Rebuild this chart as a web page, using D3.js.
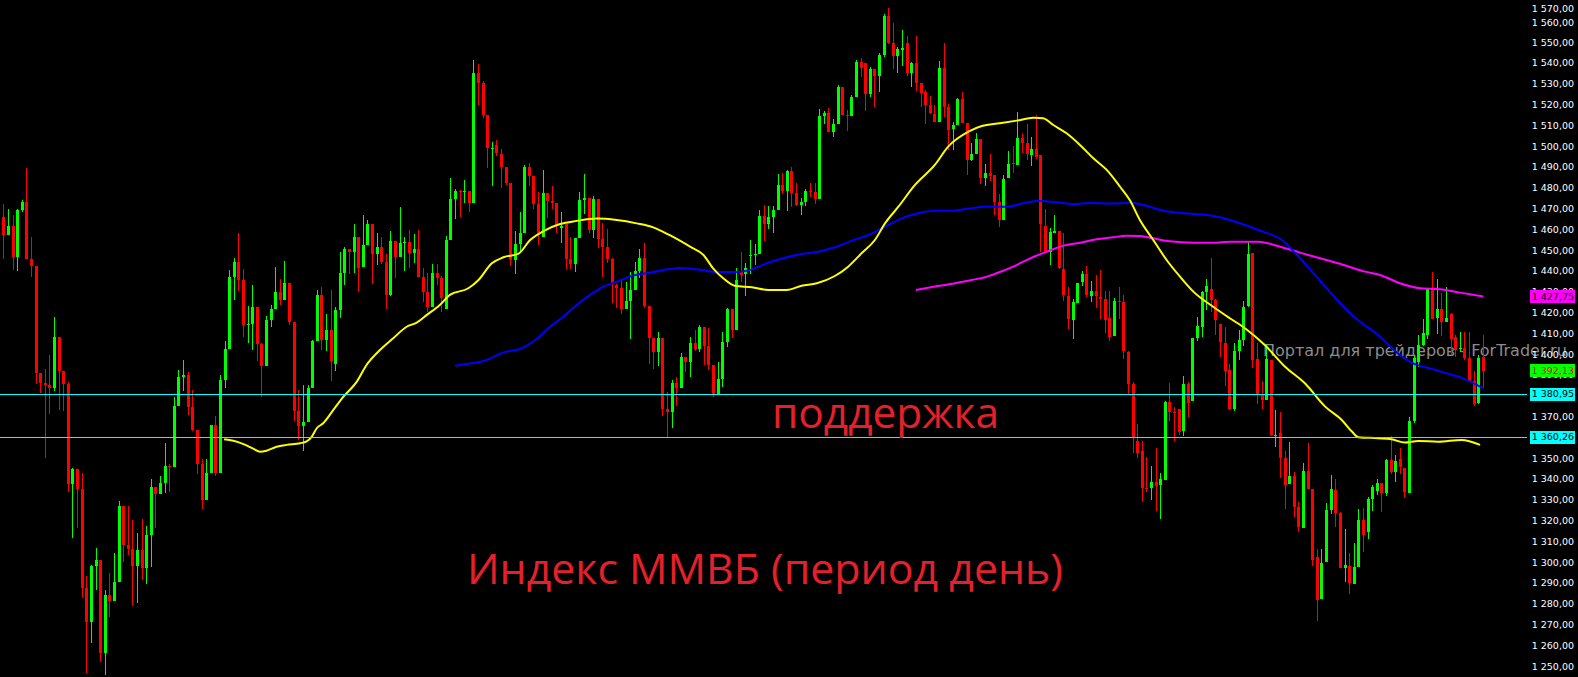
<!DOCTYPE html>
<html><head><meta charset="utf-8">
<script src="https://cdn.jsdelivr.net/npm/d3@7"></script>
<style>html,body{margin:0;padding:0;background:#000;overflow:hidden}</style>
</head><body>
<svg id="c" width="1578" height="677"></svg>
<script>
// ---- Daily candles (MICEX index) ----
const openP = [
1466.4,1457.5,1461.9,1447.1,1469.6,1473.4,1446.0,1442.6,1391.4,1386.5,
1385.4,1384.1,1408.5,1392.2,1385.9,1338.0,1345.0,1335.4,1288.0,1271.6,
1298.6,1301.3,1256.7,1284.5,1281.7,1290.9,1327.3,1308.5,1306.6,1298.6,
1306.1,1297.6,1313.3,1336.4,1333.2,1338.3,1346.6,1346.2,1375.3,1389.4,
1390.2,1375.0,1363.8,1347.6,1330.3,1343.1,1366.2,1343.1,1387.8,1402.7,
1437.3,1444.6,1435.9,1414.4,1414.8,1422.9,1405.2,1394.7,1416.7,1422.0,
1430.2,1426.3,1434.5,1415.7,1372.9,1365.7,1367.7,1384.0,1406.6,1428.7,
1407.1,1411.9,1395.5,1421.5,1439.3,1450.8,1449.4,1456.6,1442.2,1452.7,
1462.8,1448.4,1451.8,1444.6,1428.7,1454.7,1447.0,1453.7,1454.2,1448.9,
1450.8,1437.4,1430.2,1422.9,1439.3,1436.9,1422.0,1455.2,1474.9,1478.7,
1478.2,1478.7,1472.9,1535.4,1530.6,1515.2,1498.9,1501.0,1496.5,1490.1,
1482.5,1445.7,1453.2,1458.5,1490.2,1485.9,1472.4,1456.7,1477.7,1473.9,
1472.9,1461.1,1462.8,1446.0,1443.6,1456.1,1474.4,1475.3,1459.9,1474.8,
1455.6,1451.8,1446.0,1433.5,1432.1,1421.9,1425.8,1431.1,1440.2,1446.5,
1423.4,1408.0,1401.3,1408.0,1373.9,1372.4,1386.4,1384.0,1398.9,1396.5,
1405.6,1402.7,1413.3,1404.2,1395.0,1381.1,1388.3,1406.1,1421.9,1411.9,
1439.9,1438.9,1447.4,1447.9,1448.4,1466.7,1463.0,1466.2,1469.5,1481.6,
1478.7,1488.3,1477.7,1472.0,1473.4,1478.7,1478.2,1474.8,1514.7,1516.2,
1507.0,1510.9,1528.7,1515.2,1514.7,1523.9,1540.7,1540.2,1525.3,1537.3,
1534.0,1544.1,1562.8,1549.8,1543.6,1546.5,1549.8,1535.4,1540.2,1530.6,
1526.3,1520.0,1515.7,1511.8,1537.8,1519.1,1508.5,1510.4,1522.9,1511.4,
1493.6,1496.5,1503.7,1484.9,1487.3,1486.3,1473.4,1464.7,1484.9,1492.1,
1491.1,1504.1,1501.7,1495.9,1498.8,1495.9,1461.8,1449.3,1458.5,1459.4,
1441.1,1428.2,1416.6,1424.8,1434.9,1438.7,1428.2,1430.6,1427.7,1426.7,
1417.6,1408.9,1425.8,1425.3,1401.2,1385.9,1358.5,1353.6,1335.9,1335.9,
1338.7,1337.3,1339.7,1377.2,1372.4,1373.8,1363.3,1385.9,1377.7,1408.0,
1413.3,1430.1,1431.5,1426.2,1414.7,1405.6,1392.6,1373.8,1401.7,1407.0,
1423.4,1448.8,1397.9,1381.1,1378.2,1397.4,1360.9,1362.3,1350.3,1337.8,
1341.6,1326.7,1316.6,1344.0,1335.4,1302.7,1282.5,1300.3,1325.3,1334.9,
1323.8,1297.4,1298.4,1289.7,1297.9,1320.5,1314.7,1330.6,1334.4,1338.3,
1333.5,1349.3,1343.6,1349.8,1345.5,1333.5,1368.1,1396.6,1404.6,1409.4,
1431.4,1417.5,1421.8,1415.7,1419.4,1408.6,1402.5,1403.2,1398.2,1387.3,
1376.6,1398.7];
const highP = [
1472.4,1470.0,1467.2,1470.0,1474.4,1489.8,1456.6,1442.6,1391.4,1393.1,
1399.8,1418.1,1408.5,1392.2,1386.9,1345.5,1345.0,1343.3,1293.8,1299.0,
1307.2,1301.3,1287.0,1295.2,1304.8,1329.7,1327.3,1327.3,1320.5,1314.3,
1321.0,1317.6,1340.2,1336.4,1341.7,1357.5,1347.4,1379.7,1392.6,1397.4,
1391.7,1383.0,1363.8,1349.8,1349.8,1366.2,1370.5,1390.2,1406.6,1440.7,
1446.5,1458.5,1441.2,1423.4,1433.5,1422.9,1405.6,1418.6,1423.9,1442.2,
1436.4,1445.1,1434.5,1415.7,1383.0,1385.4,1385.4,1407.1,1431.1,1432.6,
1419.6,1431.1,1422.9,1449.4,1451.8,1450.8,1462.8,1456.6,1467.2,1464.8,
1462.8,1458.5,1456.6,1448.4,1459.5,1454.7,1471.0,1456.6,1460.0,1458.0,
1460.0,1441.7,1439.3,1443.6,1443.6,1437.8,1457.1,1485.0,1479.7,1479.2,
1484.0,1478.7,1541.7,1539.8,1531.6,1515.2,1502.3,1503.2,1499.0,1490.1,
1482.5,1459.5,1468.6,1491.2,1492.2,1485.9,1478.2,1488.8,1477.7,1481.1,
1472.9,1468.6,1462.8,1456.6,1456.1,1478.2,1486.9,1475.3,1476.3,1474.8,
1463.3,1460.4,1446.5,1434.0,1435.9,1435.0,1439.7,1444.6,1450.8,1453.7,
1423.4,1408.0,1410.9,1408.0,1382.1,1387.8,1389.3,1400.8,1398.9,1408.5,
1411.9,1414.3,1413.3,1412.8,1395.0,1396.5,1410.9,1422.4,1421.9,1441.7,
1449.2,1444.2,1455.1,1453.2,1469.5,1471.9,1471.5,1471.5,1486.8,1487.3,
1488.8,1490.2,1482.5,1475.3,1479.6,1482.5,1482.5,1518.1,1517.1,1518.6,
1513.3,1529.6,1528.7,1517.6,1524.8,1541.7,1542.6,1540.2,1538.3,1537.3,
1545.0,1563.8,1566.7,1559.4,1547.9,1556.1,1553.2,1540.7,1553.2,1530.6,
1527.2,1524.3,1520.0,1541.2,1549.8,1520.5,1511.8,1523.4,1526.3,1511.4,
1501.8,1506.6,1503.7,1491.6,1496.4,1486.3,1477.2,1486.3,1497.9,1500.3,
1516.6,1506.5,1510.9,1504.6,1515.2,1495.9,1470.0,1460.9,1467.1,1459.4,
1458.5,1432.5,1426.7,1434.4,1440.2,1442.6,1435.4,1438.3,1440.7,1430.6,
1430.6,1427.2,1432.5,1428.6,1401.7,1386.8,1366.6,1358.5,1350.8,1346.4,
1355.1,1343.1,1377.7,1386.3,1374.8,1373.8,1389.7,1386.8,1408.0,1418.1,
1430.6,1436.3,1446.4,1426.7,1414.7,1413.3,1395.5,1405.6,1411.8,1425.8,
1454.1,1448.8,1405.6,1387.3,1405.1,1397.4,1373.4,1372.4,1353.6,1358.0,
1343.6,1329.1,1347.9,1357.5,1335.4,1306.5,1306.5,1328.6,1342.1,1340.2,
1324.3,1316.1,1304.6,1309.4,1325.8,1326.2,1331.5,1337.3,1340.2,1338.3,
1349.8,1360.9,1351.7,1355.1,1345.5,1370.0,1399.3,1409.4,1417.0,1431.4,
1439.7,1436.4,1429.5,1432.5,1420.0,1409.4,1410.7,1410.9,1410.9,1392.1,
1399.8,1409.3];
const lowP = [
1446.0,1457.5,1440.7,1440.2,1468.8,1446.0,1437.3,1385.9,1381.6,1350.5,
1371.5,1382.7,1373.4,1373.1,1334.1,1312.0,1316.8,1283.2,1247.1,1261.5,
1287.0,1252.4,1246.0,1274.0,1281.7,1290.9,1300.5,1303.7,1278.9,1280.8,
1291.4,1289.9,1298.1,1316.4,1333.2,1333.7,1334.1,1346.2,1375.3,1382.7,
1371.0,1363.3,1342.8,1326.0,1330.3,1343.1,1341.4,1343.1,1384.1,1402.7,
1426.5,1430.6,1408.7,1405.8,1402.3,1397.0,1379.4,1394.7,1413.3,1422.0,
1423.9,1426.3,1414.3,1368.1,1359.0,1353.8,1367.7,1384.0,1406.6,1402.3,
1401.8,1387.4,1392.2,1417.7,1433.5,1438.8,1439.3,1430.2,1442.2,1452.7,
1434.0,1443.1,1443.6,1422.0,1428.2,1436.9,1447.0,1440.2,1441.7,1444.1,
1437.4,1425.3,1420.5,1422.9,1433.5,1420.5,1422.0,1455.2,1465.2,1466.2,
1472.9,1468.6,1472.9,1520.1,1513.8,1489.8,1481.1,1495.6,1480.3,1481.4,
1442.8,1439.0,1448.9,1458.5,1481.1,1470.0,1452.7,1456.7,1465.7,1470.0,
1458.5,1453.7,1441.2,1441.2,1439.7,1456.1,1467.6,1458.5,1456.1,1451.3,
1437.3,1444.1,1424.8,1422.4,1419.6,1421.9,1407.5,1431.1,1436.9,1422.4,
1395.5,1393.1,1394.6,1370.5,1360.4,1364.7,1375.3,1384.0,1391.7,1389.3,
1401.8,1401.3,1395.0,1392.6,1379.6,1381.1,1384.5,1403.7,1408.0,1411.9,
1435.1,1428.4,1438.9,1443.1,1448.4,1454.8,1460.4,1458.5,1469.5,1477.2,
1469.1,1471.0,1471.5,1467.1,1471.5,1475.8,1472.4,1474.8,1510.9,1507.0,
1504.6,1510.9,1515.2,1507.5,1514.7,1523.9,1533.5,1517.1,1523.9,1519.1,
1526.3,1543.1,1549.3,1537.3,1535.4,1538.8,1534.0,1528.7,1526.7,1519.1,
1510.9,1515.7,1511.8,1511.8,1514.2,1498.4,1498.4,1510.4,1511.4,1486.4,
1493.1,1496.5,1482.0,1481.1,1483.5,1467.1,1461.3,1464.7,1484.9,1487.3,
1491.1,1496.9,1493.5,1490.7,1494.0,1449.3,1448.8,1443.1,1458.5,1441.1,
1425.8,1412.3,1407.5,1424.8,1433.0,1427.7,1425.3,1422.4,1417.1,1410.4,
1406.5,1408.9,1417.1,1397.9,1381.1,1352.7,1350.3,1329.1,1333.9,1330.1,
1324.8,1320.9,1339.7,1368.1,1358.5,1361.3,1360.9,1370.0,1377.7,1406.5,
1408.5,1421.4,1420.5,1409.4,1398.8,1384.9,1373.4,1372.9,1397.4,1404.1,
1422.9,1393.6,1376.2,1373.8,1378.2,1360.9,1355.6,1340.7,1325.8,1337.8,
1321.9,1314.7,1316.6,1335.4,1298.4,1271.9,1282.5,1300.3,1323.4,1317.1,
1297.4,1290.7,1284.9,1289.7,1297.9,1305.1,1311.3,1324.8,1332.5,1324.3,
1332.0,1342.6,1338.7,1342.6,1331.1,1333.5,1367.1,1394.2,1404.2,1407.4,
1417.0,1409.9,1409.0,1415.7,1400.0,1399.0,1401.1,1397.4,1387.0,1375.5,
1376.1,1383.8];
const closeP = [
1457.5,1461.9,1447.1,1469.6,1473.4,1446.0,1442.6,1391.4,1386.5,1385.4,
1384.1,1408.5,1392.2,1385.9,1338.0,1345.0,1335.4,1288.0,1271.6,1298.6,
1301.3,1256.7,1284.5,1281.7,1290.7,1327.3,1308.5,1306.6,1298.6,1306.1,
1297.6,1313.3,1336.4,1333.2,1338.3,1346.5,1346.2,1375.3,1389.3,1390.2,
1375.0,1363.8,1347.6,1330.3,1343.1,1366.2,1343.1,1387.8,1402.7,1437.3,
1444.6,1435.9,1414.4,1414.8,1422.9,1405.2,1394.7,1416.7,1422.0,1430.2,
1426.3,1434.5,1415.7,1372.9,1365.7,1367.7,1384.0,1406.6,1428.7,1407.1,
1411.9,1397.0,1421.5,1439.3,1450.8,1449.4,1456.6,1441.7,1452.7,1462.8,
1448.4,1451.8,1444.6,1428.7,1454.7,1447.0,1453.7,1454.2,1448.9,1450.8,
1437.4,1430.2,1422.9,1439.3,1436.9,1427.3,1455.2,1474.9,1478.7,1478.2,
1478.7,1472.9,1535.4,1530.6,1515.2,1499.4,1499.4,1497.1,1490.1,1482.5,
1445.7,1453.2,1458.5,1490.2,1485.9,1472.4,1457.5,1477.7,1473.9,1472.9,
1461.9,1461.9,1446.0,1443.6,1456.1,1474.4,1475.3,1459.9,1474.8,1455.6,
1451.8,1446.0,1434.0,1432.1,1421.9,1425.8,1431.1,1440.2,1446.5,1423.4,
1408.0,1401.3,1408.0,1373.9,1372.4,1386.4,1384.0,1398.9,1396.5,1405.6,
1402.7,1413.3,1404.2,1395.0,1381.1,1388.3,1406.1,1421.9,1411.9,1435.9,
1438.3,1441.7,1447.9,1448.4,1466.7,1463.0,1466.2,1469.5,1481.6,1478.7,
1488.3,1477.7,1472.0,1473.4,1478.7,1478.2,1474.8,1514.7,1516.2,1507.0,
1510.9,1528.7,1515.2,1514.7,1523.9,1540.7,1537.8,1525.3,1537.3,1534.0,
1544.1,1562.8,1549.8,1543.6,1546.9,1547.4,1535.4,1540.2,1530.6,1525.8,
1520.0,1516.2,1511.8,1537.8,1519.1,1508.0,1510.4,1522.9,1511.4,1493.6,
1496.5,1503.7,1484.9,1487.3,1485.9,1473.4,1464.7,1484.4,1491.6,1491.6,
1504.1,1501.7,1496.4,1498.8,1495.0,1462.8,1449.3,1458.9,1459.4,1441.6,
1428.6,1417.1,1425.3,1434.4,1438.7,1428.6,1430.6,1428.2,1426.7,1416.6,
1408.5,1425.8,1425.3,1401.7,1385.9,1360.4,1352.7,1335.9,1335.4,1338.7,
1336.8,1340.2,1377.2,1372.4,1371.9,1362.8,1385.9,1376.7,1408.0,1413.8,
1430.1,1433.0,1426.2,1416.6,1406.1,1392.1,1373.8,1401.7,1407.0,1422.9,
1448.4,1397.4,1381.1,1378.2,1397.9,1361.3,1361.3,1350.3,1337.3,1341.6,
1326.7,1317.1,1344.0,1335.4,1301.2,1282.0,1299.8,1325.3,1335.4,1323.8,
1297.4,1298.8,1290.2,1297.9,1320.5,1313.3,1330.6,1336.3,1338.3,1333.5,
1349.3,1343.6,1348.8,1346.0,1334.0,1368.1,1398.4,1404.6,1410.6,1431.4,
1417.0,1421.8,1415.7,1417.6,1407.5,1402.2,1403.2,1398.2,1387.3,1376.1,
1398.2,1392.13];

// ---- Moving averages: [bar index, value] ----
const maYellow = [[47.9,1359.3],[49.9,1358.6],[52.1,1357.0],[54.2,1354.8],[55.7,1353.3],[57.1,1353.8],[59.3,1355.7],[61.5,1356.6],[64.4,1357.4],[65.8,1358.3],[66.9,1360.5],[68.0,1364.6],[69.4,1367.0],[71.6,1373.4],[73.8,1379.8],[76.7,1387.0],[78.8,1395.0],[81.7,1402.2],[84.6,1407.9],[87.5,1413.4],[89.7,1415.4],[91.9,1419.1],[94.7,1423.9],[96.9,1428.7],[100.9,1431.9],[103.1,1435.9],[106.0,1443.9],[108.5,1446.8],[111.7,1448.4],[114.3,1455.1],[117.2,1459.4],[120.8,1462.8],[124.4,1464.3],[128.7,1465.4],[133.1,1464.7],[137.4,1463.1],[141.0,1461.2],[144.6,1457.4],[149.0,1451.9],[151.9,1447.9],[154.0,1441.5],[156.2,1436.7],[158.7,1433.1],[162.4,1432.4],[166.0,1431.1],[170.0,1431.1],[173.2,1433.1],[176.5,1434.3],[180.4,1437.8],[183.3,1442.3],[186.2,1448.7],[189.1,1455.1],[191.3,1463.1],[194.2,1471.1],[197.8,1481.6],[202.1,1491.2],[205.0,1500.0],[209.4,1507.2],[212.3,1509.9],[216.2,1511.2],[219.9,1512.5],[223.5,1513.9],[225.6,1513.6],[227.8,1510.4],[230.7,1506.4],[233.6,1500.8],[236.5,1494.4],[239.4,1488.8],[242.3,1480.7],[244.4,1474.3],[246.6,1464.7],[249.5,1455.1],[252.4,1445.5],[255.3,1437.5],[258.2,1430.3],[262.5,1423.0],[266.1,1417.5],[269.4,1412.7],[273.7,1404.6],[278.1,1394.2],[282.4,1386.2],[286.8,1375.0],[290.4,1368.6],[292.6,1363.0],[294.0,1360.3],[298.3,1359.8],[301.2,1359.3],[304.1,1357.7],[307.0,1358.5],[311.3,1358.1],[316.4,1359.0],[320.4,1356.6]];
const maBlue = [[98.0,1394.7],[101.6,1395.8],[104.5,1397.1],[106.7,1399.3],[108.5,1401.1],[112.1,1402.7],[115.7,1407.5],[118.6,1413.4],[121.5,1418.2],[124.4,1423.9],[127.3,1428.7],[130.2,1432.7],[133.1,1435.1],[136.7,1438.0],[140.3,1439.4],[144.6,1441.2],[146.8,1441.7],[150.4,1441.0],[154.8,1439.7],[159.1,1439.7],[162.4,1441.0],[166.0,1444.2],[169.6,1446.6],[173.2,1448.4],[176.8,1449.5],[180.4,1451.6],[184.1,1454.8],[187.7,1457.5],[191.3,1461.5],[194.9,1465.5],[198.5,1468.0],[202.1,1469.2],[205.8,1469.2],[209.4,1470.2],[213.0,1471.1],[217.7,1471.1],[221.3,1472.8],[224.6,1474.0],[227.8,1473.4],[232.2,1472.4],[235.8,1472.9],[240.8,1472.6],[244.4,1473.0],[248.1,1471.5],[251.7,1469.2],[256.0,1468.0],[261.1,1467.1],[264.0,1466.0],[266.1,1464.7],[272.3,1459.9],[277.4,1455.1],[281.7,1445.5],[286.8,1432.7],[292.6,1419.1],[298.7,1408.6],[303.0,1399.8],[305.9,1395.8],[309.5,1393.4],[313.2,1391.0],[316.7,1388.6],[321.1,1383.8]];
const maMagenta = [[198.0,1431.1],[202.1,1432.7],[206.5,1434.3],[210.1,1435.9],[213.0,1437.2],[215.5,1439.1],[219.1,1442.3],[222.8,1446.3],[226.4,1449.5],[230.0,1452.4],[233.6,1453.8],[237.2,1455.5],[240.8,1456.4],[243.7,1457.2],[246.6,1457.0],[249.5,1455.9],[253.1,1454.5],[258.2,1453.8],[262.5,1453.8],[266.1,1454.3],[272.3,1454.3],[278.1,1451.1],[283.9,1447.4],[289.6,1443.9],[295.4,1439.9],[298.7,1438.3],[303.0,1434.3],[307.4,1431.9],[311.7,1431.4],[316.1,1429.8],[321.1,1427.9]];

// ---- levels, labels, ticks ----
const supportLevels = [1380.95, 1360.26];
const lastClose = 1392.13;
const slowMaLast = 1427.75;
const priceTicks = d3.range(1250, 1571, 10);
const supportText = "поддержка";
const titleText = "Индекс ММВБ (период день)";
const watermarkText = "Портал для трейдеров - ForTrader.ru";

const W = 1578, H = 677;
const svg = d3.select("#c");
svg.append("rect").attr("width", W).attr("height", H).attr("fill", "#000");

const n = Math.min(openP.length, highP.length, lowP.length, closeP.length);
const x = d3.scaleLinear().domain([0, 321]).range([3.33, 1482.8]);
const y = d3.scaleLinear().domain([1250, 1570]).range([666.6, 1.04]);

const loc = d3.formatLocale({decimal: ",", thousands: " ", grouping: [3], currency: ["", ""]});
const fmt = loc.format(",.2f");

// watermark (behind)
const wm = svg.append("text").attr("x", 1263).attr("y", 355.5)
  .attr("fill", "#8c8c8c").style("font-family", "'DejaVu Sans'").style("font-size", "16px")
  .text(watermarkText);
(function(){ const w = wm.node().getComputedTextLength(); wm.style("font-size", (16*304/w) + "px"); })();

// candles
const bull = "#00ff00", bear = "#ff0000";
const cg = svg.append("g").attr("shape-rendering", "crispEdges");
const idx = d3.range(n);
cg.selectAll("rect.w").data(idx).join("rect").attr("class", "w")
  .attr("x", i => Math.round(x(i)))
  .attr("y", i => Math.round(y(highP[i])))
  .attr("width", 1)
  .attr("height", i => Math.max(1, Math.round(y(lowP[i])) - Math.round(y(highP[i]))))
  .attr("fill", i => closeP[i] >= openP[i] ? bull : bear);
cg.selectAll("rect.b").data(idx).join("rect").attr("class", "b")
  .attr("x", i => Math.round(x(i)) - 1)
  .attr("y", i => Math.round(y(Math.max(openP[i], closeP[i]))))
  .attr("width", 3)
  .attr("height", i => Math.max(1, Math.round(y(Math.min(openP[i], closeP[i]))) - Math.round(y(Math.max(openP[i], closeP[i])))))
  .attr("fill", i => closeP[i] >= openP[i] ? bull : bear);

// moving averages
const line = d3.line().x(d => x(d[0])).y(d => y(d[1])).curve(d3.curveMonotoneX);
[[maMagenta, "#ff00ff"], [maBlue, "#0000ff"], [maYellow, "#ffff00"]].forEach(([data, col]) => {
  svg.append("path").datum(data).attr("d", line).attr("fill", "none")
    .attr("stroke", col).attr("stroke-width", 2);
});

// support lines
svg.append("g").attr("shape-rendering", "crispEdges").selectAll("line").data(supportLevels).join("line")
  .attr("x1", 0).attr("x2", 1527)
  .attr("y1", d => Math.round(y(d)) + 0.5).attr("y2", d => Math.round(y(d)) + 0.5)
  .attr("stroke", "#00ffff").attr("stroke-width", 1);

// price axis
const axis = d3.axisRight(y).tickValues(priceTicks).tickSize(0).tickPadding(0).tickFormat(fmt);
const ag = svg.append("g").attr("transform", "translate(1574,0)").call(axis);
ag.select(".domain").remove();
ag.selectAll("text").attr("text-anchor", "end").attr("x", 0).attr("fill", "#ffffff")
  .style("font-family", "'DejaVu Sans'").style("font-size", "9.5px");
// push top labels down so they stay inside the window
(function(){
  const ticks = ag.selectAll(".tick").nodes().map(nd => ({nd, v: d3.select(nd).datum()}))
    .sort((a, b) => b.v - a.v);
  let prev = -Infinity;
  ticks.forEach(t => { let p = Math.max(y(t.v), 9); if (p < prev + 14.3) p = prev + 14.3; if (p > y(t.v) + 20) p = y(t.v); prev = p;
    d3.select(t.nd).attr("transform", `translate(0,${p})`); });
})();

// price boxes
const boxes = [
  {v: slowMaLast, bg: "#ff00ff", fg: "#000000"},
  {v: lastClose, bg: "#00ff00", fg: "#ff0000"},
  {v: supportLevels[0], bg: "#00ffff", fg: "#000000"},
  {v: supportLevels[1], bg: "#00ffff", fg: "#000000"}
];
const bg = svg.append("g");
boxes.forEach(b => {
  const cy = y(b.v);
  bg.append("rect").attr("x", 1530).attr("y", Math.round(cy - 6.5)).attr("width", 45).attr("height", 13).attr("fill", b.bg);
  bg.append("text").attr("x", 1574).attr("y", cy).attr("dy", "0.32em").attr("text-anchor", "end")
    .attr("fill", b.fg).style("font-family", "'DejaVu Sans'").style("font-size", "9.5px").text(fmt(b.v));
});

// red annotations
function fitText(sel, base, target) {
  const w = sel.node().getComputedTextLength();
  sel.style("font-size", (base * target / w) + "px");
}
const t1 = svg.append("text").attr("x", 772).attr("y", 428).attr("fill", "#e5202a")
  .style("font-family", "'Open Sans'").style("font-size", "40px").text(supportText);
fitText(t1, 40, 227);
const t2 = svg.append("text").attr("x", 467).attr("y", 584).attr("fill", "#e5202a")
  .style("font-family", "'Open Sans'").style("font-size", "40px").text(titleText);
fitText(t2, 40, 596);
</script>
</body></html>
